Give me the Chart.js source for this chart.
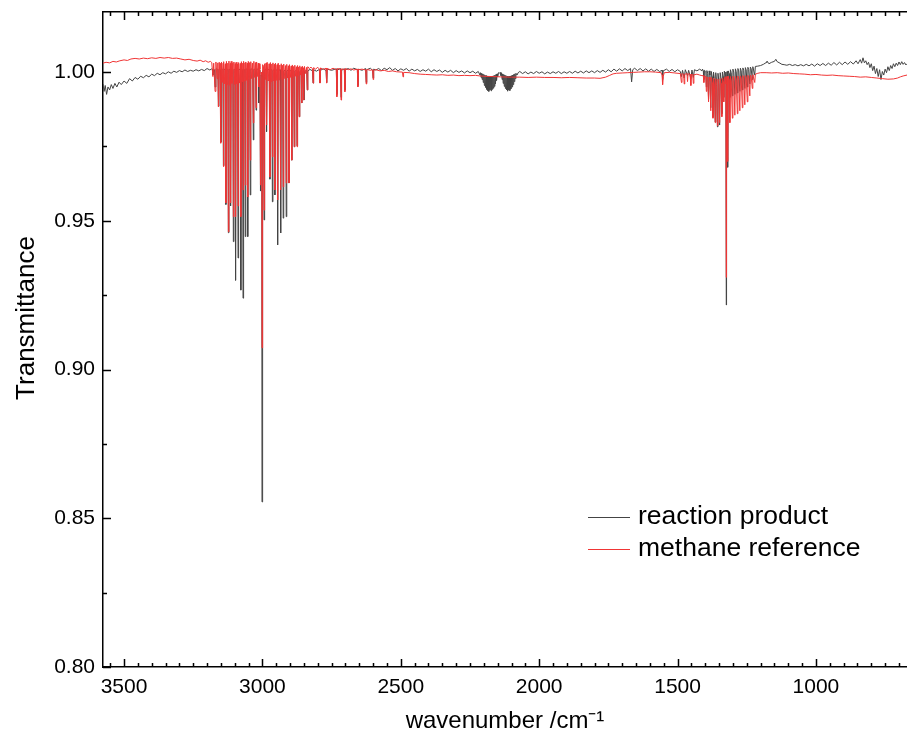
<!DOCTYPE html>
<html>
<head>
<meta charset="utf-8">
<script src="https://cdn.jsdelivr.net/npm/chart.js@4.4.1/dist/chart.umd.min.js"></script>
<style>
  html, body { margin: 0; padding: 0; background: #fff; }
</style>
</head>
<body>
<canvas id="myChart" width="907" height="740"></canvas>
<script>
// axis ranges and tick labels
const xMin = 671, xMax = 3576;
const yMin = 0.80, yMax = 1.0202;
const xTickValues = [1000, 1500, 2000, 2500, 3000, 3500];
const yTickValues = [0.80, 0.85, 0.90, 0.95, 1.00];
const seriesNames = ['reaction product', 'methane reference'];

// reaction product spectrum: [wavenumber, transmittance]
const productSpectrum = [
  [3576,0.9960],[3572,0.9935],[3568,0.9955],[3563,0.9925],[3558,0.9950],[3552,0.9940],[3546,0.9958],[3540,0.9945],
  [3533,0.9962],[3526,0.9950],[3518,0.9966],[3510,0.9958],[3500,0.9970],[3490,0.9962],[3480,0.9978],[3470,0.9970],
  [3460,0.9982],[3450,0.9976],[3440,0.9986],[3430,0.9981],[3420,0.9989],[3410,0.9984],[3400,0.9993],[3390,0.9988],
  [3380,0.9996],[3370,0.9991],[3360,0.9998],[3350,0.9994],[3340,1.0001],[3330,0.9996],[3320,1.0003],[3310,0.9999],
  [3300,1.0005],[3290,1.0001],[3280,1.0007],[3270,1.0002],[3260,1.0006],[3250,1.0003],[3240,1.0008],[3230,1.0004],
  [3220,1.0009],[3210,1.0005],[3200,1.0012],[3190,1.0007],[3183,1.0011],
  [3181,1.0010],[3179,0.9990],[3176,1.0010],[3173,1.0008],[3171,0.9950],[3168,1.0011],
  [3161,1.0009],[3159,0.9885],[3157,1.0010],[3152,1.0008],[3150,0.9765],[3148,1.0011],
  [3143,1.0009],[3141,0.9685],[3139,1.0010],[3134,1.0008],[3132,0.9555],[3130,1.0011],
  [3125,1.0009],[3123,0.9460],[3121,1.0010],[3117,1.0008],[3115,0.9550],[3113,1.0011],
  [3107,1.0009],[3105,0.9430],[3103,1.0010],[3099,1.0008],[3097,0.9300],[3095,1.0011],
  [3090,1.0009],[3088,0.9375],[3086,1.0010],[3080,1.0008],[3078,0.9267],[3076,1.0011],
  [3072,1.0009],[3070,0.9240],[3068,1.0010],[3064,1.0008],[3062,0.9447],[3060,1.0011],
  [3055,1.0009],[3053,0.9447],[3051,1.0010],[3046,1.0008],[3044,0.9587],[3042,1.0011],
  [3035,1.0009],[3033,0.9772],[3031,1.0010],[3025,1.0008],[3023,0.9872],[3021,1.0011],
  [3015,1.0009],[3013,0.9896],[3011,1.0006],[3009,1.0002],[3007,0.9600],[3005,0.9990],
  [3002.5,0.9985],[3001.5,0.8555],[3000.5,0.9950],[2998,1.0004],[2996,1.0002],[2994,0.9503],[2992,1.0008],
  [2987,1.0010],[2985,0.9800],[2983,1.0007],[2975,1.0009],[2973,0.9640],[2971,1.0006],
  [2966,1.0009],[2964,0.9564],[2962,1.0006],[2957,1.0008],[2955,0.9587],[2953,1.0005],
  [2947,1.0008],[2945,0.9419],[2943,1.0005],[2936,1.0008],[2934,0.9459],[2932,1.0004],
  [2927,1.0007],[2925,0.9509],[2923,1.0004],[2916,1.0007],[2914,0.9514],[2912,1.0004],
  [2906,1.0007],[2904,0.9627],[2902,1.0003],[2896,1.0006],[2894,0.9704],[2892,1.0003],
  [2887,1.0006],[2885,0.9749],[2883,1.0003],[2877,1.0006],[2875,0.9752],[2873,1.0002],
  [2869,1.0006],[2867,0.9850],[2865,1.0002],[2860,1.0005],[2858,0.9896],[2856,1.0002],
  [2852,1.0005],[2850,0.9906],[2848,1.0002],[2840,1.0006],[2838,0.9940],[2836,1.0004],
  [2828,1.0009],[2819,1.0004],[2817,0.9963],[2815,1.0008],[2805,1.0003],[2794,1.0009],
  [2792,0.9965],[2790,1.0006],[2780,1.0011],[2770,1.0005],[2768,0.9965],[2766,1.0010],
  [2750,1.0006],[2733,1.0011],[2731,0.9925],[2729,1.0007],[2718,1.0012],[2716,0.9915],
  [2714,1.0006],[2704,1.0011],[2702,0.9940],[2700,1.0008],[2690,1.0012],[2680,1.0006],
  [2670,1.0013],[2657,1.0008],[2655,0.9955],[2653,1.0010],[2640,1.0006],[2627,1.0012],
  [2625,0.9965],[2623,1.0008],[2610,1.0013],[2602,1.0006],[2600,0.9980],[2598,1.0010],
  [2590,1.0007],[2580,1.0012],[2570,1.0005],[2560,1.0013],[2550,1.0008],[2540,1.0015],
  [2530,1.0006],[2520,1.0012],[2510,1.0004],[2500,1.0011],[2490,1.0006],[2480,1.0012],
  [2470,1.0003],[2460,1.0010],[2450,1.0004],[2440,1.0009],[2430,1.0002],[2420,1.0008],
  [2410,1.0003],[2400,1.0010],[2390,1.0001],[2380,1.0008],[2370,1.0002],[2360,1.0007],
  [2350,0.9999],[2340,1.0006],[2330,1.0000],[2320,1.0006],[2310,0.9998],[2300,1.0005],
  [2290,0.9999],[2280,1.0004],[2270,0.9997],[2260,1.0004],[2250,0.9998],[2240,1.0003],
  [2230,0.9996],[2220,1.0002],
  [2214,0.9990],[2212,0.9998],[2210,0.9982],[2208,0.9996],[2206,0.9975],[2204,0.9994],
  [2202,0.9965],[2200,0.9992],[2198,0.9955],[2196,0.9990],[2194,0.9948],[2192,0.9988],
  [2190,0.9942],[2188,0.9986],[2186,0.9938],[2184,0.9985],[2182,0.9935],[2180,0.9984],
  [2178,0.9940],[2176,0.9985],[2174,0.9937],[2172,0.9986],[2170,0.9942],[2168,0.9987],
  [2166,0.9946],[2164,0.9988],[2162,0.9952],[2160,0.9990],[2158,0.9960],[2156,0.9992],
  [2154,0.9972],[2152,0.9994],[2150,0.9985],[2147,0.9998],[2144,0.9996],[2141,0.9999],
  [2138,0.9988],[2136,0.9996],[2134,0.9975],[2132,0.9994],[2130,0.9962],[2128,0.9992],
  [2126,0.9952],[2124,0.9990],[2122,0.9945],[2120,0.9988],[2118,0.9940],[2116,0.9986],
  [2114,0.9936],[2112,0.9985],[2110,0.9940],[2108,0.9986],[2106,0.9938],[2104,0.9987],
  [2102,0.9944],[2100,0.9988],[2098,0.9950],[2096,0.9990],[2094,0.9958],[2092,0.9992],
  [2090,0.9968],[2088,0.9994],[2086,0.9978],[2084,0.9996],[2080,0.9990],[2076,0.9998],
  [2070,1.0002],[2060,0.9995],[2050,1.0001],[2040,0.9994],[2030,1.0000],[2020,0.9995],
  [2010,1.0002],[2000,0.9996],[1990,1.0001],[1980,0.9994],[1970,1.0000],[1960,0.9995],
  [1950,1.0001],[1940,0.9996],[1930,1.0002],[1920,0.9995],[1910,1.0001],[1900,0.9996],
  [1890,1.0002],[1880,0.9996],[1870,1.0003],[1860,0.9997],[1850,1.0003],[1840,0.9997],
  [1830,1.0004],[1820,0.9998],[1810,1.0004],[1800,0.9998],[1790,1.0005],[1780,0.9999],
  [1770,1.0006],[1760,1.0000],[1750,1.0008],[1740,1.0001],[1730,1.0010],[1720,1.0003],
  [1710,1.0011],[1700,1.0004],[1690,1.0012],[1680,1.0005],[1670,1.0012],[1666,0.9967],
  [1662,1.0008],[1655,1.0013],[1645,1.0005],[1635,1.0012],[1625,1.0004],[1615,1.0011],
  [1605,1.0003],[1595,1.0010],[1585,1.0002],[1575,1.0009],[1565,1.0002],[1556,1.0006],
  [1554,0.9975],[1552,1.0004],[1540,1.0010],[1530,1.0002],[1520,1.0009],[1510,1.0001],
  [1500,1.0008],[1490,1.0002],[1486,0.9985],[1482,1.0006],[1476,0.9980],[1472,1.0008],
  [1464,0.9988],[1460,1.0006],[1452,0.9978],[1448,1.0007],[1443,0.9982],[1439,1.0008],
  [1430,1.0004],[1420,1.0010],[1412,1.0004],
  [1410,1.0010],[1407,1.0004],[1405,0.9975],[1403,1.0006],[1398,1.0002],[1396,0.9950],
  [1394,1.0005],[1391,0.9995],[1388,0.9910],[1386,1.0004],[1383,0.9990],[1380,0.9880],
  [1378,1.0002],[1375,0.9985],[1372,0.9850],[1370,1.0000],[1367,0.9978],[1364,0.9832],
  [1362,0.9998],[1359,0.9970],[1356,0.9816],[1354,0.9996],[1351,0.9972],[1348,0.9822],
  [1346,0.9998],[1343,0.9978],[1340,0.9860],[1338,1.0000],[1335,0.9985],[1333,0.9915],
  [1331,1.0003],[1328,0.9990],[1326,1.0000],[1325,0.9965],[1324,0.9217],[1323,0.9950],
  [1321,1.0002],[1319,0.9680],[1317,1.0004],
  [1314,0.9995],[1311,0.9915],[1309,1.0008],[1306,0.9998],[1302,0.9920],[1300,1.0010],
  [1297,1.0000],[1293,0.9925],[1291,1.0011],[1288,1.0002],[1284,0.9930],[1282,1.0012],
  [1279,1.0004],[1275,0.9935],[1273,1.0013],[1270,1.0005],[1266,0.9940],[1264,1.0014],
  [1261,1.0006],[1257,0.9945],[1255,1.0015],[1252,1.0007],[1248,0.9950],[1246,1.0016],
  [1243,1.0009],[1239,0.9960],[1237,1.0017],[1234,1.0011],[1230,0.9975],[1228,1.0018],
  [1221,0.9990],[1219,1.0019],[1210,1.0020],[1200,1.0022],
  [1190,1.0026],[1180,1.0032],[1177,1.0037],[1170,1.0028],[1160,1.0033],[1150,1.0036],
  [1145,1.0043],[1140,1.0035],[1130,1.0030],[1123,1.0026],[1115,1.0025],[1105,1.0023],
  [1095,1.0026],[1085,1.0022],[1075,1.0025],[1065,1.0021],[1055,1.0025],[1045,1.0021],
  [1035,1.0026],[1025,1.0021],[1015,1.0027],[1005,1.0020],[995,1.0028],[985,1.0022],
  [975,1.0029],[965,1.0022],[955,1.0030],[945,1.0023],[935,1.0032],[925,1.0024],
  [915,1.0033],[905,1.0025],[895,1.0034],[885,1.0026],[875,1.0035],[865,1.0027],
  [855,1.0038],[848,1.0028],[840,1.0042],[835,1.0030],[830,1.0048],[825,1.0031],
  [820,1.0038],[815,1.0025],[810,1.0033],[805,1.0015],[800,1.0028],[795,1.0005],
  [790,1.0020],[785,0.9995],[780,1.0012],[775,0.9985],[770,1.0008],[765,0.9975],
  [760,1.0002],[755,0.9990],[750,1.0010],[745,0.9998],[740,1.0018],[735,1.0005],
  [730,1.0022],[725,1.0012],[720,1.0028],[715,1.0018],[710,1.0030],[705,1.0022],
  [700,1.0034],[695,1.0025],[690,1.0035],[685,1.0026],[680,1.0032],[675,1.0024],[671,1.0028]
];

// methane reference spectrum: [wavenumber, transmittance]
const methaneSpectrum = [
  [3576,1.0030],[3565,1.0033],[3552,1.0031],[3540,1.0036],[3528,1.0034],[3515,1.0038],
  [3500,1.0041],[3488,1.0039],[3475,1.0044],[3460,1.0046],[3445,1.0044],[3430,1.0047],
  [3415,1.0045],[3400,1.0048],[3385,1.0046],[3370,1.0049],[3355,1.0047],[3340,1.0049],
  [3325,1.0046],[3310,1.0047],[3295,1.0044],[3280,1.0041],[3265,1.0043],[3250,1.0039],
  [3236,1.0037],[3225,1.0040],[3214,1.0035],[3205,1.0038],[3196,1.0033],[3188,1.0036],
  [3183,1.0032],[3179,0.9985],[3176,1.0030],[3171,0.9935],[3168,1.0034],[3164,0.9978],
  [3161,1.0031],[3159,0.9883],[3156,1.0033],[3153,0.9972],[3151,1.0030],[3150,0.9761],
  [3148,1.0034],[3145,0.9965],[3142,1.0030],[3141,0.9682],[3139,1.0035],[3136,0.9960],
  [3134,1.0028],[3132,0.9560],[3130,1.0036],[3127,0.9958],[3125,1.0030],[3123,0.9463],
  [3121,1.0037],[3118,0.9955],[3116,1.0029],[3115,0.9560],[3113,1.0036],[3110,0.9962],
  [3107,1.0030],[3105,0.9514],[3103,1.0034],[3100,0.9958],[3098,1.0028],[3097,0.9514],
  [3095,1.0033],[3092,0.9960],[3090,1.0027],[3088,0.9550],[3086,1.0032],[3083,0.9963],
  [3080,1.0029],[3078,0.9514],[3076,1.0035],[3073,0.9968],[3071,1.0030],[3070,0.9604],
  [3068,1.0036],[3065,0.9970],[3063,1.0031],[3062,0.9620],[3060,1.0034],[3057,0.9972],
  [3055,1.0030],[3053,0.9580],[3051,1.0036],[3048,0.9975],[3046,1.0032],[3044,0.9704],
  [3042,1.0035],[3039,0.9978],[3036,1.0030],[3033,0.9829],[3031,1.0036],[3028,0.9982],
  [3025,1.0032],[3023,0.9880],[3021,1.0034],[3017,0.9985],[3015,1.0030],[3013,0.9950],
  [3011,1.0028],[3009,1.0010],[3007,0.9620],[3005,1.0000],[3002.5,0.9990],[3001.5,0.9073],
  [3000.5,0.9960],[2998,1.0025],[2996,1.0020],[2994,0.9536],[2992,1.0028],[2989,0.9975],
  [2987,1.0030],[2985,0.9822],[2983,1.0033],[2979,0.9970],[2976,1.0028],[2973,0.9647],
  [2971,1.0032],[2968,0.9968],[2966,1.0027],[2964,0.9715],[2962,1.0031],[2959,0.9970],
  [2957,1.0026],[2955,0.9604],[2953,1.0030],[2950,0.9972],[2947,1.0025],[2945,0.9570],
  [2943,1.0030],[2940,0.9974],[2937,1.0024],[2934,0.9604],[2932,1.0028],[2929,0.9976],
  [2927,1.0023],[2925,0.9614],[2923,1.0027],[2919,0.9978],[2916,1.0022],[2914,0.9627],
  [2912,1.0026],[2909,0.9980],[2906,1.0021],[2904,0.9627],[2902,1.0025],[2899,0.9982],
  [2896,1.0020],[2894,0.9704],[2892,1.0024],[2889,0.9984],[2887,1.0019],[2885,0.9749],
  [2883,1.0023],[2880,0.9986],[2877,1.0018],[2875,0.9749],[2873,1.0022],[2870,0.9988],
  [2869,1.0017],[2867,0.9850],[2865,1.0021],[2862,0.9990],[2860,1.0016],[2858,0.9896],
  [2856,1.0020],[2853,0.9992],[2852,1.0015],[2850,0.9906],[2848,1.0019],[2844,0.9995],
  [2840,1.0016],[2838,0.9940],[2836,1.0018],[2830,1.0012],[2825,1.0017],[2819,1.0011],
  [2817,0.9963],[2815,1.0015],[2808,1.0010],[2800,1.0016],[2794,1.0010],[2792,0.9963],
  [2790,1.0014],[2780,1.0009],[2770,1.0013],[2768,0.9963],[2766,1.0012],[2755,1.0008],
  [2745,1.0013],[2733,1.0008],[2731,0.9917],[2729,1.0012],[2718,1.0010],[2716,0.9906],
  [2714,1.0011],[2704,1.0009],[2702,0.9934],[2700,1.0012],[2690,1.0008],[2680,1.0011],
  [2670,1.0007],[2657,1.0010],[2655,0.9950],[2653,1.0008],[2640,1.0010],[2627,1.0007],
  [2625,0.9960],[2623,1.0009],[2610,1.0006],[2602,1.0008],[2600,0.9975],[2598,1.0006],
  [2590,1.0008],[2575,1.0004],[2560,1.0006],[2545,1.0002],[2530,1.0004],[2515,1.0001],
  [2494,1.0000],[2492,0.9984],[2490,0.9999],[2470,0.9998],[2450,0.9995],[2430,0.9993],
  [2410,0.9992],[2390,0.9991],[2370,0.9990],[2350,0.9991],[2330,0.9989],[2310,0.9990],
  [2290,0.9988],[2270,0.9989],[2250,0.9988],[2230,0.9989],[2214,0.9987],[2200,0.9986],
  [2170,0.9985],[2140,0.9984],[2100,0.9983],[2070,0.9983],[2040,0.9982],[2010,0.9983],
  [1980,0.9982],[1950,0.9982],[1920,0.9981],[1890,0.9982],[1860,0.9981],[1830,0.9980],
  [1800,0.9980],[1780,0.9979],[1760,0.9983],[1745,0.9989],[1733,0.9994],[1720,0.9996],
  [1700,0.9997],[1680,0.9998],[1660,0.9999],[1640,1.0000],[1620,1.0001],[1600,1.0001],
  [1580,1.0000],[1560,0.9998],[1556,0.9990],[1554,0.9958],[1552,0.9985],[1548,0.9998],
  [1530,0.9999],[1510,0.9997],[1490,0.9995],[1486,0.9965],[1484,0.9995],[1478,0.9992],
  [1476,0.9960],[1474,0.9993],[1466,0.9995],[1464,0.9968],[1462,0.9994],[1455,0.9993],
  [1452,0.9955],[1450,0.9992],[1445,0.9992],[1443,0.9962],[1441,0.9991],[1430,0.9993],
  [1420,0.9990],[1412,0.9988],
  [1407,0.9988],[1405,0.9965],[1403,0.9986],[1398,0.9985],[1396,0.9935],[1394,0.9984],
  [1391,0.9975],[1388,0.9900],[1386,0.9983],[1383,0.9970],[1380,0.9870],[1378,0.9982],
  [1375,0.9965],[1372,0.9845],[1370,0.9980],[1367,0.9960],[1364,0.9830],[1362,0.9978],
  [1359,0.9955],[1356,0.9820],[1354,0.9976],[1351,0.9958],[1348,0.9830],[1346,0.9978],
  [1343,0.9962],[1340,0.9850],[1338,0.9980],[1335,0.9968],[1333,0.9900],[1331,0.9982],
  [1328,0.9975],[1326,0.9985],[1325,0.9960],[1324,0.9310],[1323,0.9940],[1321,0.9985],
  [1319,0.9700],[1317,0.9986],
  [1314,0.9975],[1311,0.9830],[1309,0.9985],[1306,0.9970],[1302,0.9845],[1300,0.9986],
  [1297,0.9972],[1293,0.9855],[1291,0.9986],[1288,0.9974],[1284,0.9860],[1282,0.9987],
  [1279,0.9976],[1275,0.9870],[1273,0.9987],[1270,0.9978],[1266,0.9880],[1264,0.9988],
  [1261,0.9980],[1257,0.9890],[1255,0.9988],[1252,0.9982],[1248,0.9900],[1246,0.9989],
  [1243,0.9984],[1239,0.9920],[1237,0.9990],[1234,0.9986],[1230,0.9945],[1228,0.9991],
  [1221,0.9965],[1219,0.9993],[1210,0.9996],[1200,0.9998],
  [1180,0.9998],[1160,0.9997],[1140,0.9998],[1120,0.9996],[1100,0.9997],[1080,0.9995],
  [1060,0.9994],[1040,0.9993],[1020,0.9991],[1000,0.9992],[980,0.9990],[960,0.9989],
  [940,0.9990],[920,0.9988],[900,0.9987],[880,0.9986],[860,0.9985],[840,0.9983],
  [820,0.9984],[800,0.9982],[780,0.9980],[760,0.9978],[740,0.9976],[720,0.9977],
  [705,0.9980],[695,0.9984],[685,0.9987],[671,0.9990]
];

const toPoints = arr => arr.map(p => ({x: p[0], y: p[1]}));

const font = '"Liberation Sans", Arial, sans-serif';

// inward ticks on the frame, y title and the legend inside the plot
const framePlugin = {
  id: 'framePlugin',
  afterDraw(chart) {
    const ctx = chart.ctx;
    const a = chart.chartArea;
    const x = chart.scales.x, y = chart.scales.y;
    ctx.save();
    ctx.strokeStyle = '#000';
    ctx.lineWidth = 1.5;
    ctx.beginPath();
    for (let v = 700; v <= xMax; v += 50) {
      const px = Math.round(x.getPixelForValue(v)) + 0.5;
      const len = v % 500 === 0 ? 8 : 4;
      ctx.moveTo(px, a.bottom); ctx.lineTo(px, a.bottom - len);
      ctx.moveTo(px, a.top); ctx.lineTo(px, a.top + len);
    }
    for (let k = 0; k <= 8; k++) {
      const py = Math.round(y.getPixelForValue(yMin + k * 0.025)) + 0.5;
      const len = k % 2 === 0 ? 8 : 4;
      ctx.moveTo(a.left, py); ctx.lineTo(a.left + len, py);
    }
    ctx.stroke();

    // y axis title
    ctx.fillStyle = '#000';
    ctx.font = '26px ' + font;
    ctx.textAlign = 'center';
    ctx.textBaseline = 'middle';
    ctx.save();
    ctx.translate(27, 318);
    ctx.rotate(-Math.PI / 2);
    ctx.fillText('Transmittance', 0, 0);
    ctx.restore();

    // legend
    ctx.font = '26.5px ' + font;
    ctx.textAlign = 'left';
    ctx.lineWidth = 1;
    chart.data.datasets.forEach((ds, i) => {
      const ly = 517 + i * 32;
      ctx.strokeStyle = ds.borderColor;
      ctx.beginPath();
      ctx.moveTo(588, ly + 0.5); ctx.lineTo(630, ly + 0.5);
      ctx.stroke();
      ctx.fillText(ds.label, 638, ly);
    });
    ctx.restore();
  }
};

const ctx = document.getElementById('myChart').getContext('2d');
const myChart = new Chart(ctx, {
  type: 'line',
  data: {
    datasets: [
      {
        label: seriesNames[0],
        data: toPoints(productSpectrum),
        borderColor: '#444444',
        borderWidth: 1,
        order: 2
      },
      {
        label: seriesNames[1],
        data: toPoints(methaneSpectrum),
        borderColor: '#f03535',
        borderWidth: 1,
        order: 1
      }
    ]
  },
  options: {
    responsive: false,
    animation: false,
    devicePixelRatio: 1,
    layout: { padding: 0 },
    elements: { point: { radius: 0 }, line: { tension: 0 } },
    plugins: { legend: { display: false }, tooltip: { enabled: false } },
    scales: {
      x: {
        type: 'linear',
        position: 'bottom',
        reverse: true,
        min: xMin,
        max: xMax,
        grid: { display: false, drawTicks: false },
        border: { display: true, color: '#000', width: 1.5 },
        afterBuildTicks: s => { s.ticks = xTickValues.map(v => ({value: v})); },
        afterFit: s => { s.height = 73; s.paddingLeft = 0; s.paddingRight = 0; },
        ticks: {
          padding: 8,
          maxRotation: 0,
          autoSkip: false,
          color: '#000',
          font: { family: font, size: 21 },
          callback: v => String(v)
        },
        title: {
          display: true,
          text: 'wavenumber /cm\u207B\u00B9',
          color: '#000',
          font: { family: font, size: 24 },
          padding: { top: 0, bottom: 4 }
        }
      },
      x2: {
        type: 'linear',
        position: 'top',
        reverse: true,
        min: xMin,
        max: xMax,
        grid: { display: false, drawTicks: false },
        border: { display: true, color: '#000', width: 1.5 },
        ticks: { display: false },
        afterFit: s => { s.height = 12; s.paddingLeft = 0; s.paddingRight = 0; }
      },
      y: {
        type: 'linear',
        position: 'left',
        min: yMin,
        max: yMax,
        grid: { display: false, drawTicks: false },
        border: { display: true, color: '#000', width: 1.5 },
        afterBuildTicks: s => { s.ticks = yTickValues.map(v => ({value: v})); },
        afterFit: s => { s.width = 103; s.paddingTop = 0; s.paddingBottom = 0; },
        ticks: {
          padding: 8,
          color: '#000',
          font: { family: font, size: 21 },
          callback: v => v.toFixed(2)
        }
      }
    }
  },
  plugins: [framePlugin]
});
</script>
</body>
</html>
